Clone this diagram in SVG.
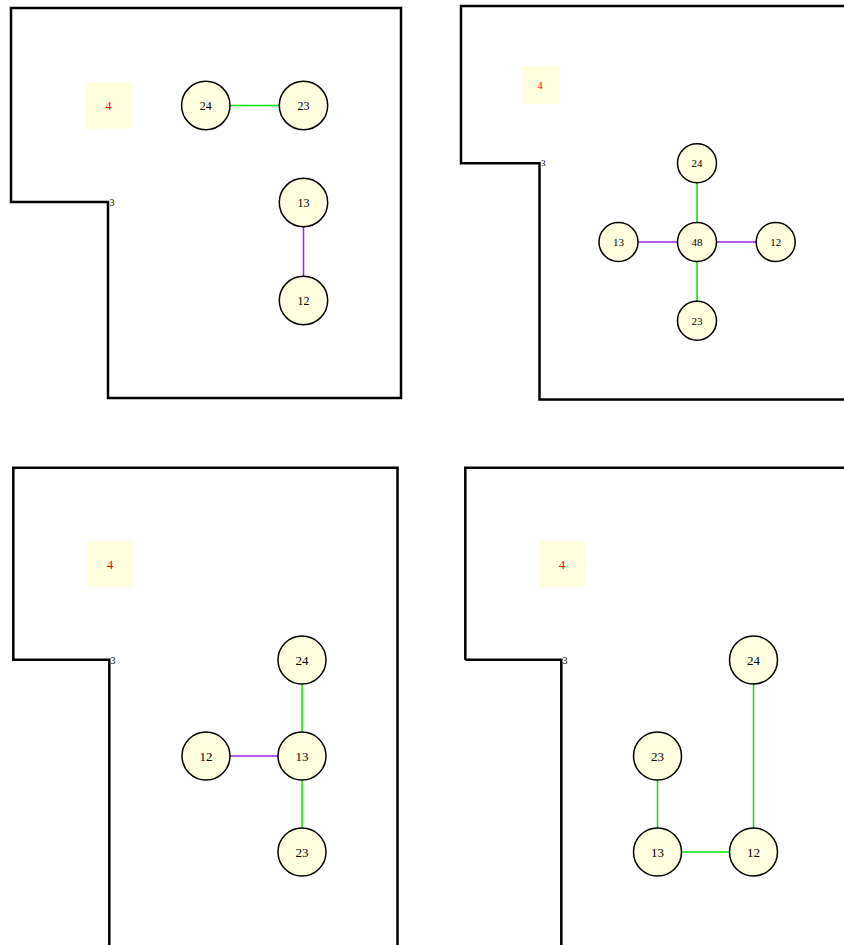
<svg xmlns="http://www.w3.org/2000/svg" width="844" height="945" viewBox="0 0 844 945">
<style>
.wall{fill:none;stroke:#000;stroke-width:2.5;stroke-linejoin:miter}
.box{fill:#ffffe0;stroke:none}
.boxt{fill:#ff0000;font-family:"Liberation Serif",serif;text-anchor:middle;dominant-baseline:central}
.n{fill:#ffffe0;stroke:#000;stroke-width:1.5}
.t{fill:#000;font-family:"Liberation Serif",serif;text-anchor:middle;dominant-baseline:central}
.c{fill:#000;font-family:"Liberation Serif",serif}
.g{stroke:#00e600;stroke-width:1.5}
.p{stroke:#a020f0;stroke-width:1.5}
</style>
<rect width="844" height="945" fill="#fff"/>

<!-- Panel 1 -->
<g id="panel1">
<path class="wall" d="M11,202 L11,8 L401,8 L401,398 L108,398 L108,202 Z"/>
<text class="c" x="109.5" y="206" font-size="10">3</text>
<g id="p1-room4"><rect class="box" x="85" y="82" width="47" height="47"/><text class="boxt" x="108.5" y="105.5" font-size="12">4</text></g>
<g id="p1-edges">
<line class="g" x1="230" y1="105.5" x2="279" y2="105.5"/>
<line class="p" x1="303.5" y1="227" x2="303.5" y2="276"/>
</g>
<g id="p1-n24"><circle class="n" cx="205.8" cy="105.5" r="24.2"/><text class="t" x="205.8" y="105.5" font-size="12">24</text></g>
<g id="p1-n23"><circle class="n" cx="303.5" cy="105.5" r="24.2"/><text class="t" x="303.5" y="105.5" font-size="12">23</text></g>
<g id="p1-n13"><circle class="n" cx="303.5" cy="202.5" r="24.2"/><text class="t" x="303.5" y="202.5" font-size="12">13</text></g>
<g id="p1-n12"><circle class="n" cx="303.5" cy="300.5" r="24.2"/><text class="t" x="303.5" y="300.5" font-size="12">12</text></g>
</g>

<!-- Panel 2 -->
<g id="panel2">
<path class="wall" d="M461,163.3 L461,6 L860,6 L860,399.5 L539.5,399.5 L539.5,163.3 Z"/>
<text class="c" x="541" y="166" font-size="9">3</text>
<g id="p2-room4"><rect class="box" x="521" y="66" width="38" height="38"/><text class="boxt" x="540" y="85" font-size="11">4</text></g>
<g id="p2-edges">
<line class="g" x1="697" y1="183" x2="697" y2="222.5"/>
<line class="g" x1="697" y1="262" x2="697" y2="301"/>
<line class="p" x1="638" y1="242" x2="677.5" y2="242"/>
<line class="p" x1="716.5" y1="242" x2="756" y2="242"/>
</g>
<g id="p2-n24"><circle class="n" cx="697" cy="163.3" r="19.5"/><text class="t" x="697" y="163.3" font-size="11">24</text></g>
<g id="p2-n48"><circle class="n" cx="697" cy="242" r="19.5"/><text class="t" x="697" y="242" font-size="11">48</text></g>
<g id="p2-n13"><circle class="n" cx="618.5" cy="242" r="19.5"/><text class="t" x="618.5" y="242" font-size="11">13</text></g>
<g id="p2-n12"><circle class="n" cx="775.7" cy="242" r="19.5"/><text class="t" x="775.7" y="242" font-size="11">12</text></g>
<g id="p2-n23"><circle class="n" cx="697" cy="320.7" r="19.5"/><text class="t" x="697" y="320.7" font-size="11">23</text></g>
</g>

<!-- Panel 3 -->
<g id="panel3">
<path class="wall" d="M13.3,659.7 L13.3,467.7 L397.5,467.7 L397.5,960 L109.3,960 L109.3,659.7 Z"/>
<text class="c" x="110.5" y="663.5" font-size="10">3</text>
<g id="p3-room4"><rect class="box" x="87" y="541" width="46" height="46"/><text class="boxt" x="110" y="564" font-size="13">4</text></g>
<g id="p3-edges">
<line class="g" x1="302" y1="684" x2="302" y2="732"/>
<line class="g" x1="302" y1="780" x2="302" y2="828"/>
<line class="p" x1="230" y1="756" x2="278" y2="756"/>
</g>
<g id="p3-n24"><circle class="n" cx="302" cy="660" r="24"/><text class="t" x="302" y="660" font-size="13">24</text></g>
<g id="p3-n13"><circle class="n" cx="302" cy="756" r="24"/><text class="t" x="302" y="756" font-size="13">13</text></g>
<g id="p3-n12"><circle class="n" cx="206" cy="756" r="24"/><text class="t" x="206" y="756" font-size="13">12</text></g>
<g id="p3-n23"><circle class="n" cx="302" cy="852" r="24"/><text class="t" x="302" y="852" font-size="13">23</text></g>
</g>

<!-- Panel 4 -->
<g id="panel4">
<path class="wall" d="M465.3,659.7 L465.3,467.7 L860,467.7 M561.3,960 L561.3,659.7 L465.3,659.7"/>
<text class="c" x="562.5" y="663.5" font-size="10">3</text>
<g id="p4-room4"><rect class="box" x="539" y="541" width="46" height="46"/><text class="boxt" x="562" y="564" font-size="13">4</text></g>
<g id="p4-edges">
<line class="g" x1="657.5" y1="780" x2="657.5" y2="828"/>
<line class="g" x1="681.5" y1="852" x2="729.5" y2="852"/>
<line class="g" x1="753.5" y1="684" x2="753.5" y2="828"/>
</g>
<g id="p4-n24"><circle class="n" cx="753.5" cy="660" r="24"/><text class="t" x="753.5" y="660" font-size="13">24</text></g>
<g id="p4-n23"><circle class="n" cx="657.5" cy="756" r="24"/><text class="t" x="657.5" y="756" font-size="13">23</text></g>
<g id="p4-n13"><circle class="n" cx="657.5" cy="852" r="24"/><text class="t" x="657.5" y="852" font-size="13">13</text></g>
<g id="p4-n12"><circle class="n" cx="753.5" cy="852" r="24"/><text class="t" x="753.5" y="852" font-size="13">12</text></g>
</g>
</svg>
